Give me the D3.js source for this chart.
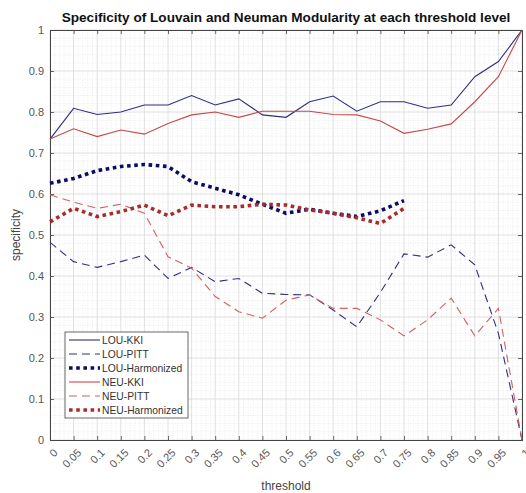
<!DOCTYPE html>
<html><head><meta charset="utf-8">
<script src="https://cdn.jsdelivr.net/npm/d3@7"></script>
<style>
html,body{margin:0;padding:0;background:#fff;}
svg{display:block;font-family:"Liberation Sans",Arial,sans-serif;}
</style></head>
<body><svg id="chart" width="526" height="493"></svg>
<script>
const thresholds = [0,0.05,0.1,0.15,0.2,0.25,0.3,0.35,0.4,0.45,0.5,0.55,0.6,0.65,0.7,0.75,0.8,0.85,0.9,0.95,1];
const xTickLabels = ["0","0.05","0.1","0.15","0.2","0.25","0.3","0.35","0.4","0.45","0.5","0.55","0.6","0.65","0.7","0.75","0.8","0.85","0.9","0.95","1"];
const yTickValues = [0,0.1,0.2,0.3,0.4,0.5,0.6,0.7,0.8,0.9,1];
const yTickLabels = ["0","0.1","0.2","0.3","0.4","0.5","0.6","0.7","0.8","0.9","1"];

const louKKI  = [0.734,0.809,0.794,0.800,0.817,0.817,0.840,0.817,0.832,0.793,0.787,0.825,0.839,0.802,0.825,0.825,0.809,0.817,0.886,0.923,1.0];
const louPITT = [0.482,0.435,0.421,0.435,0.451,0.394,0.421,0.386,0.394,0.358,0.355,0.354,0.317,0.276,0.360,0.454,0.446,0.476,0.427,0.260,0.0];
const louHarm = [0.626,0.638,0.657,0.667,0.672,0.667,0.630,0.614,0.598,0.575,0.553,0.563,0.553,0.545,0.559,0.584];
const neuKKI  = [0.734,0.759,0.740,0.756,0.746,0.772,0.793,0.800,0.787,0.802,0.802,0.802,0.794,0.793,0.778,0.748,0.758,0.771,0.825,0.886,1.0];
const neuPITT = [0.598,0.580,0.565,0.575,0.553,0.447,0.419,0.350,0.313,0.297,0.341,0.354,0.321,0.321,0.293,0.254,0.293,0.346,0.254,0.321,0.0];
const neuHarm = [0.532,0.565,0.545,0.557,0.573,0.547,0.573,0.569,0.569,0.575,0.573,0.561,0.553,0.542,0.528,0.565];

const seriesNames = ["LOU-KKI","LOU-PITT","LOU-Harmonized","NEU-KKI","NEU-PITT","NEU-Harmonized"];
const seriesValues = [louKKI, louPITT, louHarm, neuKKI, neuPITT, neuHarm];
const seriesColors = ["#2e2e80","#2e2e80","#0c0c66","#c84848","#d26060","#a82c2c"];
const seriesWidths = [1.1,1.1,3.6,1.1,1.1,3.6];
const seriesDash = [null,"8,5","3.6,3.6",null,"8,5","3.6,3.6"];

const svg = d3.select("#chart");
const L=50, R=522, T=30, B=440;
const x = d3.scaleLinear().domain([0,1]).range([L,R]);
const y = d3.scaleLinear().domain([0,1]).range([B,T]);

// minor grid
const g = svg.append("g");
g.selectAll("line.mx").data(d3.range(0,101).map(i=>i/100).filter((d,i)=>i%5!==0))
 .join("line").attr("x1",d=>x(d)).attr("x2",d=>x(d)).attr("y1",T).attr("y2",B)
 .attr("stroke","#e2e2e2").attr("stroke-width",0.6).attr("stroke-dasharray","1,1.5");
g.selectAll("line.my").data(d3.range(0,51).map(i=>i/50).filter((d,i)=>i%5!==0))
 .join("line").attr("y1",d=>y(d)).attr("y2",d=>y(d)).attr("x1",L).attr("x2",R)
 .attr("stroke","#e2e2e2").attr("stroke-width",0.6).attr("stroke-dasharray","1,1.5");
// major grid
g.selectAll("line.gx").data(thresholds).join("line")
 .attr("x1",d=>x(d)).attr("x2",d=>x(d)).attr("y1",T).attr("y2",B)
 .attr("stroke","#d8d8d8").attr("stroke-width",0.8);
g.selectAll("line.gy").data(yTickValues).join("line")
 .attr("y1",d=>y(d)).attr("y2",d=>y(d)).attr("x1",L).attr("x2",R)
 .attr("stroke","#d8d8d8").attr("stroke-width",0.8);

// axes
const axColor="#444";
const xb = d3.axisBottom(x).tickValues(thresholds).tickSize(-4).tickFormat("");
const xt = d3.axisTop(x).tickValues(thresholds).tickSize(-4).tickFormat("");
const yl = d3.axisLeft(y).tickValues(yTickValues).tickSize(-4).tickFormat("");
const yr = d3.axisRight(y).tickValues(yTickValues).tickSize(-4).tickFormat("");
[[xb,`translate(0,${B})`],[xt,`translate(0,${T})`],[yl,`translate(${L},0)`],[yr,`translate(${R},0)`]].forEach(([a,tr])=>{
  const ag = svg.append("g").attr("transform",tr).call(a);
  ag.select(".domain").attr("stroke",axColor).attr("stroke-width",1);
  ag.selectAll(".tick line").attr("stroke",axColor).attr("stroke-width",0.8);
});

// tick labels
svg.append("g").selectAll("text").data(thresholds).join("text")
 .attr("transform",(d,i)=>`translate(${x(d)+3},${B+8}) rotate(-45)`)
 .attr("text-anchor","end").attr("dy","0.7em")
 .attr("font-size",11).attr("fill","#555")
 .text((d,i)=>xTickLabels[i]);
svg.append("g").selectAll("text").data(yTickValues).join("text")
 .attr("x",L-6).attr("y",d=>y(d)).attr("dy","0.35em").attr("text-anchor","end")
 .attr("font-size",11).attr("fill","#555")
 .text((d,i)=>yTickLabels[i]);

// lines
const line = d3.line().x((d,i)=>x(thresholds[i])).y(d=>y(d));
seriesValues.forEach((vals,k)=>{
  svg.append("path").datum(vals).attr("d",line).attr("fill","none")
   .attr("stroke",seriesColors[k]).attr("stroke-width",seriesWidths[k])
   .attr("stroke-dasharray",seriesDash[k]);
});

// labels
svg.append("text").attr("x",286).attr("y",22).attr("text-anchor","middle")
 .attr("font-size",13.6).attr("font-weight","bold").attr("fill","#111")
 .text("Specificity of Louvain and Neuman Modularity at each threshold level");
svg.append("text").attr("x",(L+R)/2).attr("y",490).attr("text-anchor","middle")
 .attr("font-size",12).attr("fill","#444").text("threshold");
svg.append("text").attr("transform",`translate(20,${(T+B)/2}) rotate(-90)`).attr("text-anchor","middle")
 .attr("font-size",12).attr("fill","#444").text("specificity");

// legend
const lg = svg.append("g");
lg.append("rect").attr("x",65).attr("y",332).attr("width",123).attr("height",86)
 .attr("fill","#fff").attr("stroke","#444").attr("stroke-width",0.8);
seriesNames.forEach((name,k)=>{
  const yy = 340 + k*14;
  lg.append("line").attr("x1",69).attr("x2",100).attr("y1",yy).attr("y2",yy)
   .attr("stroke",seriesColors[k]).attr("stroke-width",seriesWidths[k])
   .attr("stroke-dasharray",seriesDash[k]);
  lg.append("text").attr("x",102).attr("y",yy).attr("dy","0.35em")
   .attr("font-size",10.3).attr("fill","#333").text(name);
});
</script></body></html>
